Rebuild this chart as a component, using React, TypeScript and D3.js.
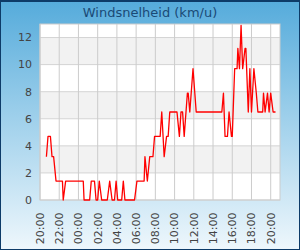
import * as React from 'react';
import * as d3 from 'd3';

// wind speed readings (time of day, km/u)
const times: string[] = [
    '20:40', '20:50', '21:05', '21:15', '21:25', '21:40', '22:20', '22:25', '22:40', '00:30',
    '00:35', '01:10', '01:20', '01:40', '01:50', '02:00', '02:10', '02:25', '03:00', '03:15',
    '03:30', '03:45', '03:55', '04:05', '04:30', '04:40', '04:50', '05:50', '06:05', '06:50',
    '06:55', '07:10', '07:25', '07:45', '07:55', '08:30', '08:40', '08:55', '09:10', '09:20',
    '09:30', '10:15', '10:30', '10:40', '10:50', '11:00', '11:20', '11:25', '11:35', '11:55',
    '12:15', '14:55', '15:05', '15:15', '15:30', '15:40', '15:55', '16:00', '16:15', '16:30',
    '16:35', '16:45', '16:55', '17:05', '17:20', '17:25', '17:40', '17:50', '18:00', '18:15',
    '18:30', '18:40', '19:10', '19:15', '19:25', '19:40', '19:50', '20:00', '20:15', '20:30'
];
const speeds: number[] = [
    3.2, 4.7, 4.7, 3.2, 3.2, 1.4, 1.4, 0, 1.4, 1.4,
    0, 0, 1.4, 1.4, 0, 0, 1.4, 0, 0, 1.4,
    0, 0, 1.4, 0, 0, 1.4, 0, 0, 1.4, 1.4,
    3.2, 1.4, 3.2, 3.2, 4.7, 4.7, 6.5, 3.2, 4.7, 4.7,
    6.5, 6.5, 4.7, 6.5, 6.5, 4.7, 7.9, 7.9, 6.5, 9.7,
    6.5, 6.5, 7.9, 4.7, 4.7, 6.5, 4.7, 4.7, 9.7, 9.7,
    11.2, 9.7, 12.9, 9.7, 11.2, 11.2, 6.5, 9.7, 6.5, 9.7,
    7.9, 6.5, 6.5, 7.9, 6.5, 7.9, 6.5, 7.9, 6.5, 6.5
];
const xTickLabels: string[] = [
    '20:00', '22:00', '00:00', '02:00', '04:00', '06:00', '08:00',
    '10:00', '12:00', '14:00', '16:00', '18:00', '20:00'
];
const yTicks: number[] = [0, 2, 4, 6, 8, 10, 12];
const title = 'Windsnelheid (km/u)';

// minutes since the first 20:00, keeps increasing over midnight
function toMinutes(list: string[]): number[] {
    let prev = -1;
    return list.map((t) => {
        let [h, m] = t.split(':').map(Number);
        let v = h * 60 + m - 1200;
        if (v < 0) v += 1440;
        while (v < prev) v += 1440;
        prev = v;
        return v;
    });
}

export default function App() {
    let width = 300, height = 250;
    let margin = { top: 24, right: 20, bottom: 50, left: 40 };
    let w = width - margin.left - margin.right;
    let h = height - margin.top - margin.bottom;

    let mins = toMinutes(times);
    let tickMins = xTickLabels.map((_, i) => i * 120);

    let xScale = d3.scaleLinear().domain([0, 1498]).range([0, w]);
    let yScale = d3.scaleLinear().domain([0, 13]).range([h, 0]);

    let line = d3.line<number>()
        .x((_, i) => xScale(mins[i]))
        .y((d) => yScale(d));

    let font = '"DejaVu Sans", sans-serif';

    return (
        <div style={{ position: 'fixed', left: 0, top: 0 }}>
            <svg width={width} height={height} style={{ display: 'block' }}>
                <defs>
                    <linearGradient id="bg" x1="0" y1="0" x2="0" y2="1">
                        <stop offset="0" stopColor="#55abdb" />
                        <stop offset="0.5" stopColor="#a3d2ec" />
                        <stop offset="1" stopColor="#eef7fc" />
                    </linearGradient>
                </defs>
                <rect x={0.5} y={0.5} width={width - 1} height={height - 1} fill="url(#bg)" stroke="#0d3b68" strokeWidth={1} />
                <line x1={0} x2={width} y1={1} y2={1} stroke="#0d3b68" strokeWidth={2} />
                <text x={width / 2} y={17} textAnchor="middle" fontFamily={font} fontSize={13} fill="#1a4a76">{title}</text>
                <g transform={'translate(' + margin.left + ',' + margin.top + ')'}>
                    <rect x={0} y={0} width={w} height={h} fill="#ffffff" />
                    {yTicks.map((t) => (t / 2) % 2 === 1 ? (
                        <rect key={'b' + t} x={0} y={yScale(t + 2)} width={w} height={yScale(t) - yScale(t + 2)} fill="#f2f2f2" />
                    ) : null)}
                    {yTicks.map((t) => (
                        <line key={'gy' + t} x1={0} x2={w} y1={yScale(t)} y2={yScale(t)} stroke="#d4d4d4" strokeWidth={1} />
                    ))}
                    {tickMins.map((m, i) => (
                        <line key={'gx' + i} x1={xScale(m)} x2={xScale(m)} y1={0} y2={h} stroke="#cccccc" strokeWidth={1} />
                    ))}
                    <rect x={0} y={0} width={w} height={h} fill="none" stroke="#cccccc" strokeWidth={1} />
                    <path d={line(speeds) || ''} fill="none" stroke="#ff0000" strokeWidth={1.3} strokeLinejoin="round" />
                    {yTicks.map((t) => (
                        <text key={'ly' + t} x={-8} y={yScale(t)} dy="0.35em" textAnchor="end" fontFamily={font} fontSize={11} fill="#444444">{t}</text>
                    ))}
                    {tickMins.map((m, i) => (
                        <text key={'lx' + i} transform={'translate(' + xScale(m) + ',' + (h + 12.5) + ') rotate(-90)'}
                            dy="0.35em" textAnchor="end" fontFamily={font} fontSize={11} fill="#444444">{xTickLabels[i]}</text>
                    ))}
                </g>
            </svg>
        </div>
    );
}
